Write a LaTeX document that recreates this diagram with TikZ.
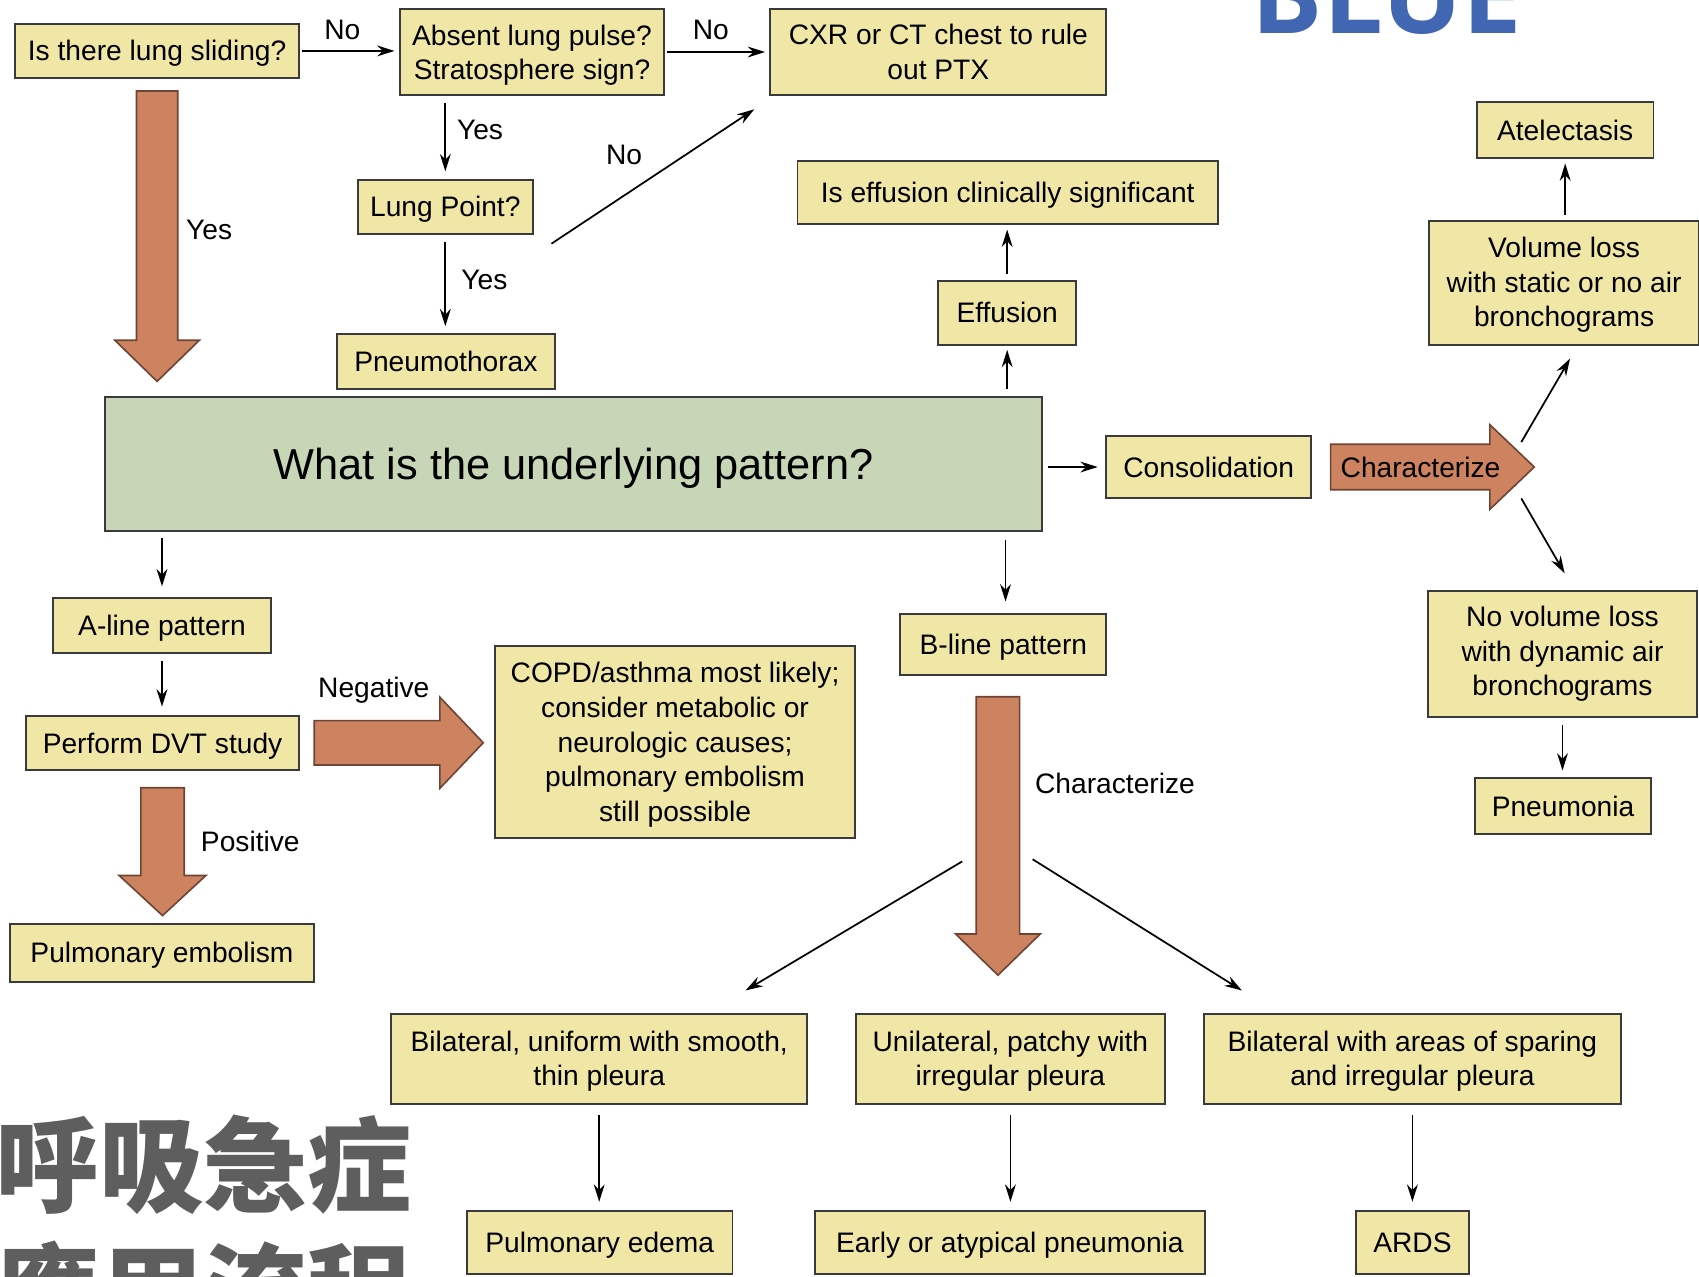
\documentclass[tikz,border=0pt]{standalone}
\usepackage{fontspec}
\setmainfont{Liberation Sans}
\newfontfamily\cjkfont{Noto Sans CJK TC}
\newfontfamily\bluefont{Open Sans}
\usetikzlibrary{arrows.meta,calc}
\definecolor{boxfill}{HTML}{F0E6A6}
\definecolor{boxdraw}{HTML}{3A3A3A}
\definecolor{greenfill}{HTML}{C6D6B6}
\definecolor{fatfill}{HTML}{CD8260}
\definecolor{fatdraw}{HTML}{6E4434}
\definecolor{bluetxt}{HTML}{4267B2}
\definecolor{cjkgray}{HTML}{5E5E5E}
% single-line box: name x1 y1 x2 y2, then (name) at (...) {text}
\newcommand\bx[6][box]{\node[#1, minimum width={#5-#3}, minimum height={#6-#4}]}
% multi-line box: name x1 y1 x2 y2 downshift text
\newcommand\mbx[7]{\node[mbox, minimum width={#4-#2}, minimum height={#5-#3}, label={[mtext, yshift=-#6pt]center:{#7}}] (#1) at ({(#2+#4)/2},{(#3+#5)/2}) {};}
\newcommand\fatdown[6]{\draw[fat] ({#1-#4},#2) -- ({#1+#4},#2) -- ({#1+#4},{#3-#6}) -- ({#1+#5},{#3-#6}) -- (#1,#3) -- ({#1-#5},{#3-#6}) -- ({#1-#4},{#3-#6}) -- cycle;}
\newcommand\fatright[6]{\draw[fat] (#2,{#1-#4}) -- (#2,{#1+#4}) -- ({#3-#6},{#1+#4}) -- ({#3-#6},{#1+#5}) -- (#3,#1) -- ({#3-#6},{#1-#5}) -- ({#3-#6},{#1-#4}) -- cycle;}
\begin{document}
\begin{tikzpicture}[x=1pt,y=-1pt,
  boxbase/.style={draw=boxdraw, line width=1.8pt, inner sep=0pt, align=center,
    execute at begin node={\rule{0pt}{0.92em}}, execute at end node={\rule[-0.21em]{0pt}{0pt}}},
  box/.style={boxbase, fill=boxfill, font=\fontsize{26}{32}\selectfont},
  gbox/.style={boxbase, fill=greenfill, font=\fontsize{40}{48}\selectfont},
  mbox/.style={draw=boxdraw, line width=1.8pt, inner sep=0pt, fill=boxfill},
  mtext/.style={inner sep=0pt, align=center, font=\fontsize{26}{32}\selectfont},
  lbl/.style={font=\fontsize{26}{32}\selectfont, inner sep=0pt},
  arr/.style={-{Stealth[length=16pt,width=10pt]}, line width=1.6pt, shorten <=5pt, shorten >=4pt},
  fat/.style={fill=fatfill, draw=fatdraw, line width=1.5pt, line join=miter}]
\useasboundingbox (0,0) rectangle (1568,1178);
\clip (0,0) rectangle (1568,1178);
% title texts
\node[anchor=base west, inner sep=0pt, text=bluetxt, font=\bluefont\bfseries\fontsize{98}{98}\selectfont] (blue) at (1155,31) {BLUE};
\node[anchor=base west, inner sep=0pt, text=cjkgray, font=\cjkfont\bfseries\fontsize{96}{96}\selectfont] (cjka) at (-4,1112) {呼吸急症};
\node[anchor=base west, inner sep=0pt, text=cjkgray, font=\cjkfont\bfseries\fontsize{96}{96}\selectfont] (cjkb) at (-4,1229) {應用流程};
% boxes
\bx{slide}{14}{22}{276}{72} (slide) at (145,47) {Is there lung sliding?};
\mbx{absent}{369}{8}{613}{88}{3}{Absent lung pulse?\\Stratosphere sign?}
\mbx{cxr}{711}{8}{1021}{88}{0}{CXR or CT chest to rule\\out PTX}
\bx{lp}{330}{166}{492}{216} (lp) at (411,191) {Lung Point?};
\bx{ptx}{311}{308}{512}{359} (ptx) at (411.5,333.5) {Pneumothorax};
\bx[gbox]{green}{97}{366}{962}{490} (green) at (529.5,428) {What is the underlying pattern?};
\bx{eff}{866}{259}{993}{318} (eff) at (929.5,288.5) {Effusion};
\bx{effsig}{736}{149}{1124}{207} (effsig) at (930,178) {Is effusion clinically significant};
\bx{atel}{1363}{94}{1526}{146} (atel) at (1444.5,120) {Atelectasis};
\mbx{vol}{1319}{204}{1568}{318}{2}{Volume loss\\with static or no air\\bronchograms}
\bx{cons}{1021}{402}{1210}{460} (cons) at (1115.5,431) {Consolidation};
\mbx{novol}{1318}{545}{1566}{662}{0}{No volume loss\\with dynamic air\\bronchograms}
\bx{pneu}{1361}{718}{1524}{770} (pneu) at (1442.5,744) {Pneumonia};
\bx{aline}{49}{552}{250}{603} (aline) at (149.5,577.5) {A-line pattern};
\bx{dvt}{24}{661}{276}{711} (dvt) at (150,686) {Perform DVT study};
\bx{pe}{9}{853}{290}{906} (pe) at (149.5,879.5) {Pulmonary embolism};
\mbx{copd}{457}{596}{789}{773}{3}{COPD/asthma most likely;\\consider metabolic or\\neurologic causes;\\pulmonary embolism\\still possible}
\bx{bline}{831}{567}{1021}{623} (bline) at (926,595) {B-line pattern};
\mbx{bilu}{361}{936}{745}{1019}{2}{Bilateral, uniform with smooth,\\thin pleura}
\mbx{unil}{790}{936}{1075}{1019}{2}{Unilateral, patchy with\\irregular pleura}
\mbx{bils}{1111}{936}{1496}{1019}{2}{Bilateral with areas of sparing\\and irregular pleura}
\bx{edema}{431}{1118}{676}{1176} (edema) at (553.5,1147) {Pulmonary edema};
\bx{early}{752}{1118}{1112}{1176} (early) at (932,1147) {Early or atypical pneumonia};
\bx{ards}{1251}{1118}{1356}{1176} (ards) at (1303.5,1147) {ARDS};
% fat arrows
\fatdown{145}{84}{352}{19}{39}{38}
\fatdown{150}{727}{845}{20}{40}{37}
\fatdown{921}{643}{900}{20}{39}{38}
\fatright{685.5}{290}{446}{20.5}{42}{40}
\fatright{431}{1228}{1416}{21}{39}{41}
\node[lbl] (charlbl) at (1311,431) {Characterize};
% thin arrows
\draw[arr, shorten <=2pt] (slide.east) -- (slide.east -| absent.west);
\draw[arr, shorten <=2pt] (absent.east |- cxr.west) -- (cxr.west);
\draw[arr, shorten <=6pt, shorten >=7pt] (lp.north |- absent.south) -- (lp.north);
\draw[arr, shorten <=6pt, shorten >=6pt] (lp.south) -- (lp.south |- ptx.north);
\coordinate (lpno) at ($(lp.south east)+(16,8)$);
\coordinate (cxrno) at ($(cxr.south west)+(-14,12)$);
\draw[arr, shorten <=0pt, shorten >=0pt] (lpno) -- (cxrno);
\draw[arr, shorten <=6pt, shorten >=4pt] (green.north -| eff.south) -- (eff.south);
\draw[arr] (eff.north) -- (eff.north |- effsig.south);
\draw[arr] (vol.north -| atel.south) -- (atel.south);
\draw[arr, shorten <=4pt, shorten >=7pt] (green.east |- cons.west) -- (cons.west);
\draw[arr, shorten <=6pt, shorten >=10pt] (green.south -| aline.north) -- (aline.north);
\draw[arr, shorten <=6pt, shorten >=8pt] (aline.south) -- (aline.south |- dvt.north);
\draw[arr, shorten <=7pt, shorten >=11pt] (green.south -| bline.north) ++(2,0) coordinate (gb) -- (gb |- bline.north);
\draw[arr, shorten <=6pt, shorten >=6pt] (novol.south) -- (novol.south |- pneu.north);
\coordinate (chup) at (1404,408);
\coordinate (chdn) at (1404,460);
\draw[arr, shorten <=0pt, shorten >=0pt] (chup) -- ($(vol.south)+(5.5,12)$);
\draw[arr, shorten <=0pt, shorten >=0pt] (chdn) -- ($(novol.north)+(2,-15)$);
\coordinate (fanl) at (888,795);
\coordinate (fanr) at (953,793);
\draw[arr, shorten <=0pt, shorten >=0pt] (fanl) -- ($(bilu.north)+(135,-21)$);
\draw[arr, shorten <=0pt, shorten >=0pt] (fanr) -- ($(bils.north west)+(36,-21)$);
\draw[arr, shorten <=9pt, shorten >=8pt] (bilu.south) -- (bilu.south |- edema.north);
\draw[arr, shorten <=9pt, shorten >=8pt] (unil.south) -- (unil.south |- early.north);
\draw[arr, shorten <=9pt, shorten >=8pt] (bils.south) -- (bils.south |- ards.north);
% labels
\node[lbl] (no1) at (316,28) {No};
\node[lbl] (no2) at (656,28) {No};
\node[lbl] (yes1) at (443,120) {Yes};
\node[lbl] (yes2) at (447,258) {Yes};
\node[lbl] (no3) at (576,143) {No};
\node[lbl] (yes3) at (193,212) {Yes};
\node[lbl] (neg) at (345,637) {Negative};
\node[lbl] (pos) at (231,777) {Positive};
\node[lbl] (charb) at (1029,723) {Characterize};
\end{tikzpicture}
\end{document}
